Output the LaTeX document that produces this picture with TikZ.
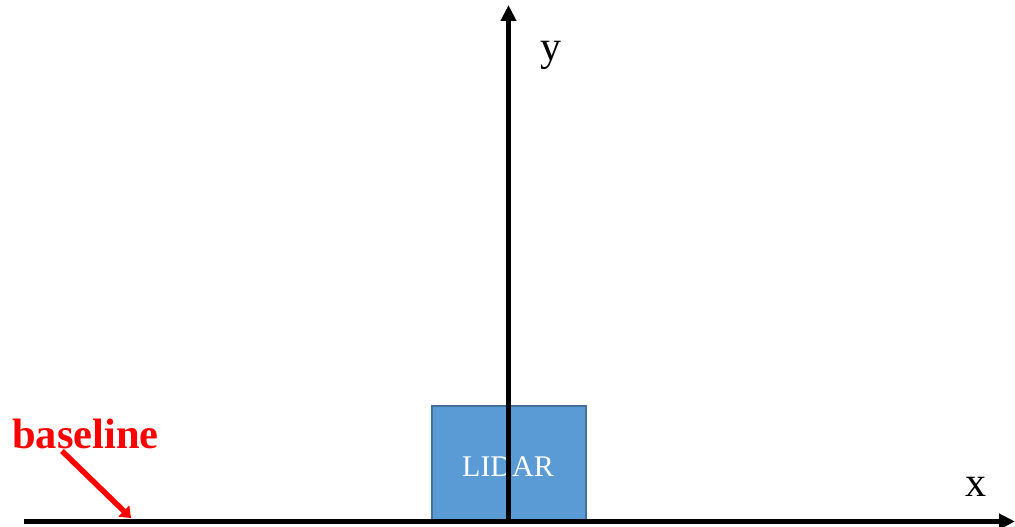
\documentclass[tikz,border=0pt]{standalone}
\usepackage{fontspec}
\setmainfont{Liberation Serif}
\usetikzlibrary{arrows.meta}
\definecolor{boxfill}{HTML}{5B9BD5}
\definecolor{boxedge}{HTML}{41719C}
\tikzset{
  axis/.style={line width=5.5pt,-{Triangle[length=16pt,width=15pt]}},
  lidarbox/.style={draw=boxedge,fill=boxfill,line width=2pt,minimum width=154pt,minimum height=114pt,inner sep=0pt},
  pointer/.style={red,line width=5.5pt,-{Triangle[length=10pt,width=15pt]}},
}
\begin{document}
\begin{tikzpicture}[x=1pt,y=-1pt]
\useasboundingbox (0,0) rectangle (1015,527);
\node[lidarbox,anchor=south west] (lidar) at (431,521) {};
\node[text=white,font=\fontsize{30}{30}\selectfont] (lidarlabel) at (508,467) {LIDAR};
\coordinate (xstart) at (24,521.5);
\coordinate (xend) at (1015,521.5);
\coordinate (ystart) at (508.5,521.5);
\coordinate (yend) at (508.5,5);
\draw[axis] (xstart) -- (xend);
\draw[axis] (ystart) -- (yend);
\node[font=\fontsize{42}{42}\selectfont,anchor=base] (ylabel) at (551,61) {y};
\node[font=\fontsize{42}{42}\selectfont,anchor=base] (xlabel) at (976,496) {x};
\node[red,font=\bfseries\fontsize{42.5}{42.5}\selectfont,anchor=base west,inner sep=0pt] (baseline) at (12,448) {baseline};
\coordinate (ptip) at (131,518);
\draw[pointer] (62,451) -- (ptip);
\end{tikzpicture}
\end{document}
